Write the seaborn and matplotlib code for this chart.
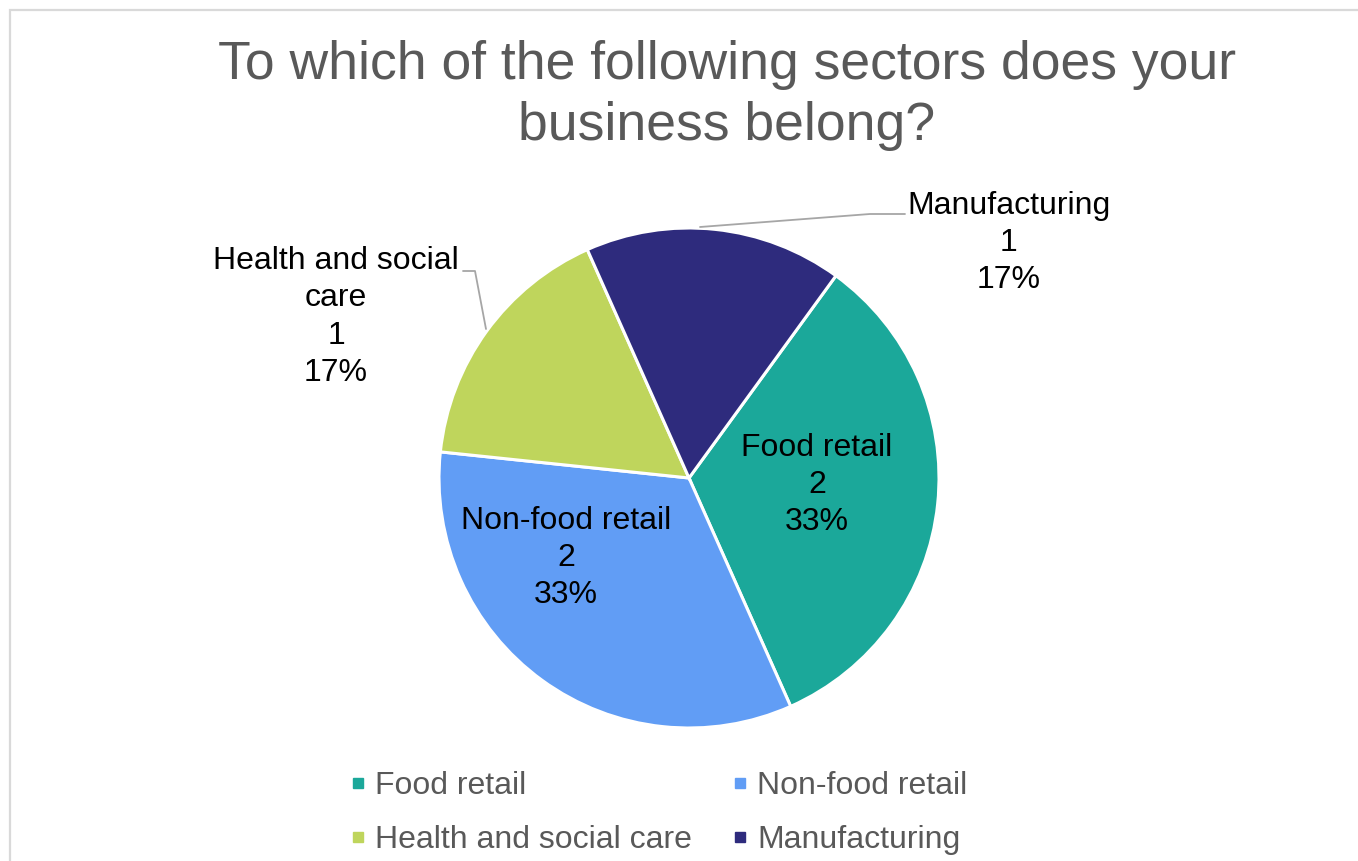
import matplotlib.pyplot as plt
import seaborn as sns
import numpy as np
from matplotlib.patches import Rectangle
from matplotlib.lines import Line2D

sectors = ['Food retail', 'Non-food retail', 'Health and social care', 'Manufacturing']
counts = [2, 2, 1, 1]
colors = ['#1BA89A', '#619DF5', '#BFD55C', '#2E2B7D']
title = 'To which of the following sectors does your\nbusiness belong?'

# label text: wrapped names used on the chart
label_names = ['Food retail', 'Non-food retail', 'Health and social\ncare', 'Manufacturing']

sns.set_style('white')
plt.rcParams['font.family'] = ['Liberation Sans', 'DejaVu Sans']

W, H = 1358, 861
fig = plt.figure(figsize=(W / 100, H / 100), dpi=100)
ax = fig.add_axes([0, 0, 1, 1])

# outer chart frame (extends past the right/bottom edge)
fig.patches.append(Rectangle((10 / W, -0.1), 1.2, 1 - 9.5 / H + 0.1, transform=fig.transFigure,
                             fill=False, edgecolor='#D9D9D9', linewidth=1.6))

cx, cy, r = 689, H - 478, 250
wedges, _ = ax.pie(counts, colors=colors, startangle=54, counterclock=False,
                   center=(cx, cy), radius=r, frame=True,
                   wedgeprops=dict(edgecolor='white', linewidth=2.2))
ax.set_xlim(0, W)
ax.set_ylim(0, H)
ax.set_aspect('auto')
ax.axis('off')

total = sum(counts)
pcts = [c / total * 100 for c in counts]
label_pos = [(817, 485), (566, 558), (336, 317), (1009, 243)]
for name, c, p, (lx, ly) in zip(label_names, counts, pcts, label_pos):
    ax.text(lx, H - ly, f'{name}\n{c}\n{p:.0f}%', ha='center', va='center',
            fontsize=23, color='black', linespacing=1.32)

# leader lines for outside labels
ax.plot([700, 870, 905], [H - 227, H - 214, H - 214], color='#A6A6A6', lw=1.3)
ax.plot([463, 475, 486], [H - 271, H - 271, H - 329], color='#A6A6A6', lw=1.3)

fig.text(727 / W, 1 - 40 / H, title, ha='center', va='top', fontsize=38.5,
         color='#595959', linespacing=1.28)

order = [0, 2, 1, 3]
handles = [Line2D([], [], marker='s', linestyle='none', markersize=7,
                  markerfacecolor=colors[i], markeredgecolor=colors[i]) for i in order]
fig.legend(handles, [sectors[i] for i in order], ncol=2, loc='center',
           bbox_to_anchor=(659 / W, 1 - 813 / H), frameon=False, fontsize=23,
           labelcolor='#595959', handlelength=0.45, handletextpad=0.3,
           columnspacing=1.3, labelspacing=0.75, borderpad=0)

fig.savefig('out.png', dpi=100)
